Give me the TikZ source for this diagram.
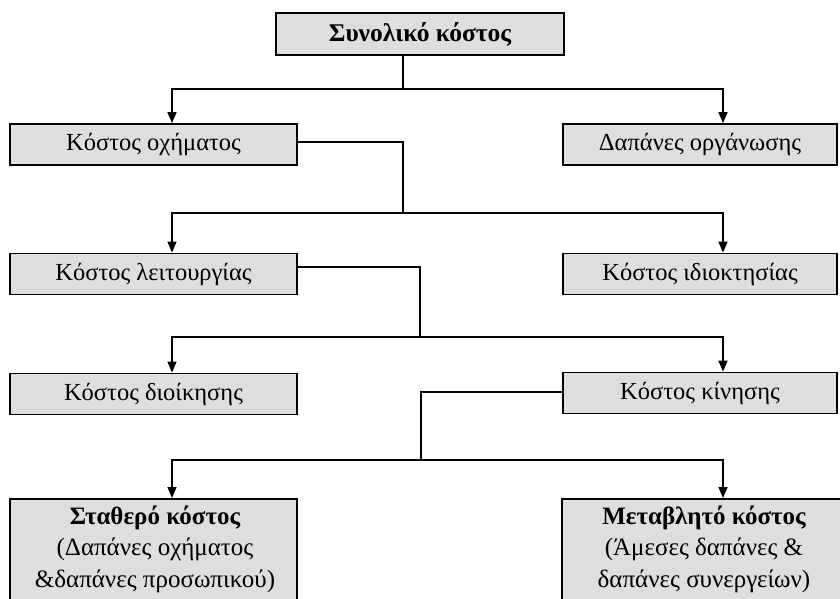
\documentclass[tikz,border=0pt]{standalone}
\usepackage{fontspec}
\setmainfont{Liberation Serif}
\usetikzlibrary{arrows.meta,calc}
\definecolor{boxgray}{HTML}{DEDEDE}
\tikzset{
  box/.style={draw=black, line width=1.8pt, fill=boxgray, inner sep=0pt, minimum height=41pt, font=\fontsize{24.5}{28}\selectfont},
  lbox/.style={box, minimum width=287pt},
  rbox/.style={box, minimum width=274pt},
  conn/.style={line width=1.6pt, line join=miter},
  arr/.style={conn, -{Triangle[length=11pt,width=9pt]}},
  btext/.style={align=center, inner sep=0pt, font=\fontsize{25}{31.5}\selectfont}
}
\begin{document}
\begin{tikzpicture}[x=1pt,y=-1pt]
\clip (0,0) rectangle (840,599);
\fill[white] (0,0) rectangle (840,599);
\coordinate (xL) at (172,0);
\coordinate (xR) at (723,0);
% boxes
\node[box, minimum width=288pt, minimum height=42pt] (top) at (420,34) {\fontsize{25.5}{28}\selectfont\bfseries Συνολικό κόστος};
\node[lbox] (oxh) at (153.5,144.5) {Κόστος οχήματος};
\node[rbox] (org) at (700,144.5) {Δαπάνες οργάνωσης};
\node[lbox] (leit) at (153.5,274) {Κόστος λειτουργίας};
\node[rbox] (idio) at (700,274) {Κόστος ιδιοκτησίας};
\node[lbox] (dioik) at (153.5,394) {Κόστος διοίκησης};
\node[rbox] (kin) at (700,393) {Κόστος κίνησης};
\node[box, minimum width=287pt, minimum height=120pt, anchor=north] (stath) at (153.5,498) {};
\node[box, minimum width=280pt, minimum height=120pt, anchor=north] (metab) at (702,498) {};
\node[btext] (stathT) at (155,549) {{\bfseries Σταθερό κόστος}\\(Δαπάνες οχήματος\\\&δαπάνες προσωπικού)};
\node[btext] (metabT) at (704,549) {{\bfseries Μεταβλητό κόστος}\\(Άμεσες δαπάνες \&\\δαπάνες συνεργείων)};
% level 1
\coordinate (j1) at (403,89);
\draw[conn] (top.south -| j1) -- (j1);
\draw[arr] (j1) -| (oxh.north -| xL);
\draw[arr] (j1) -| (org.north -| xR);
% level 2
\coordinate (j2) at (403,213);
\draw[conn] ($(oxh.east)+(0,-2.5)$) -| (j2);
\draw[arr] (j2) -| (leit.north -| xL);
\draw[arr] (j2) -| (idio.north -| xR);
% level 3
\coordinate (j3) at (420,337);
\draw[conn] ($(leit.east)+(0,-7)$) -| (j3);
\draw[arr] (j3) -| (dioik.north -| xL);
\draw[arr] (j3) -| (kin.north -| xR);
% level 4
\coordinate (j4) at (421,460);
\draw[conn] ($(kin.west)+(0,-1)$) -| (j4);
\draw[arr] (j4) -| (stath.north -| xL);
\draw[arr] (j4) -| (metab.north -| xR);
\end{tikzpicture}
\end{document}
